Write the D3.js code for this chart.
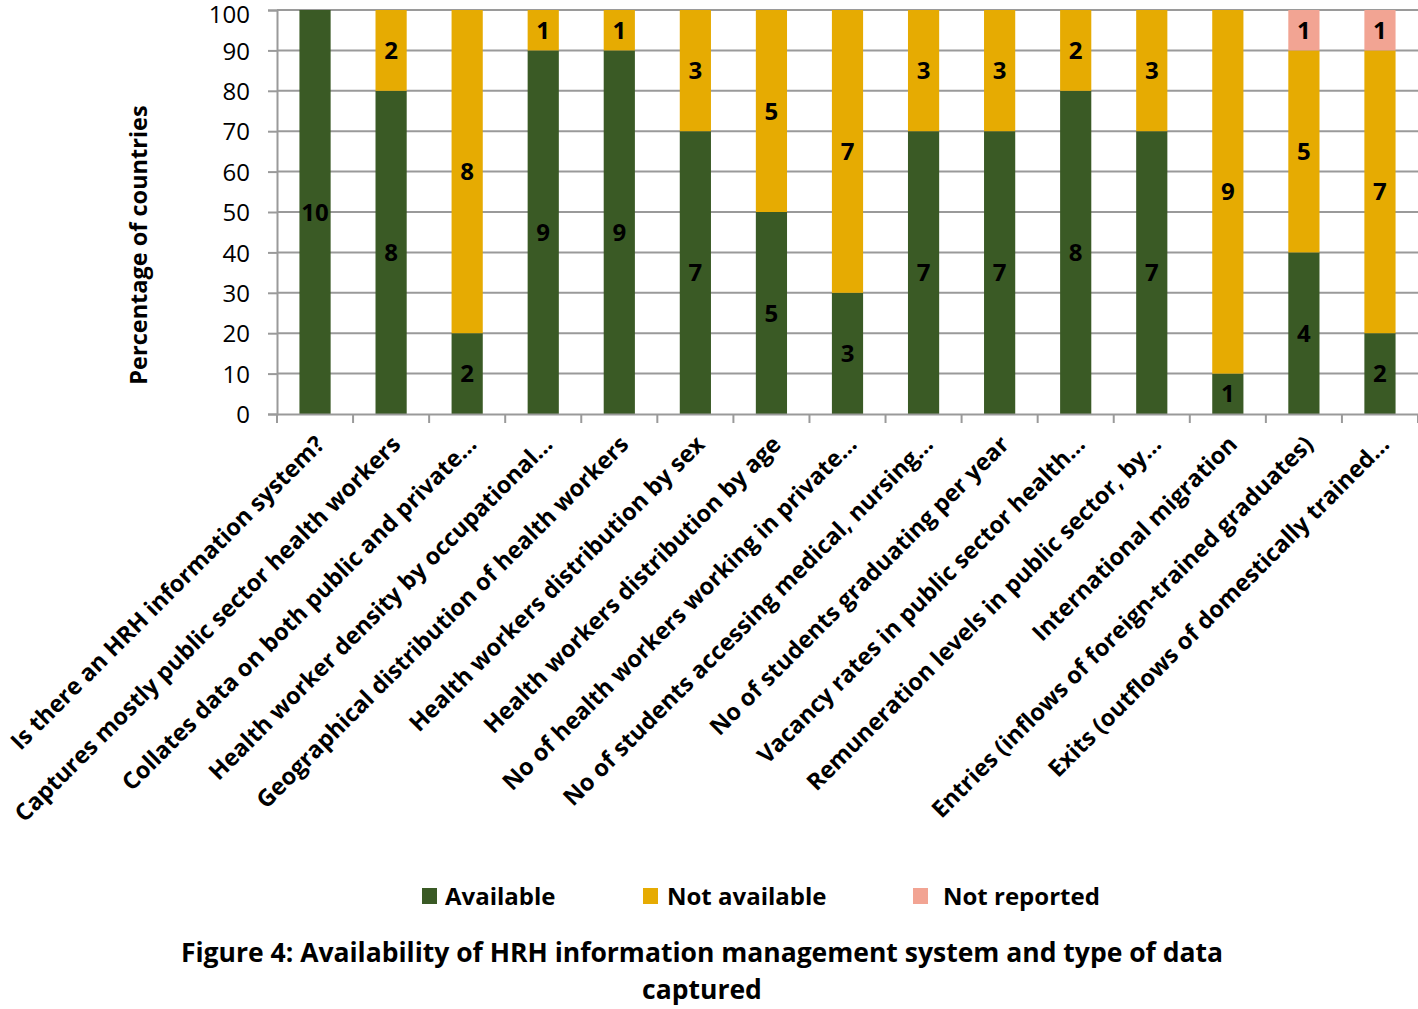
<!DOCTYPE html>
<html><head><meta charset="utf-8">
<script src="https://cdn.jsdelivr.net/npm/d3@7"></script>
<style>body{margin:0;background:#fff}svg{display:block}</style>
</head><body>
<script>
const categories = [
 "Is there an HRH information system?",
 "Captures mostly public sector health workers",
 "Collates data on both public and private…",
 "Health worker density by occupational…",
 "Geographical distribution of health workers",
 "Health workers distribution by sex",
 "Health workers distribution by age",
 "No of health workers working in private…",
 "No of students accessing medical, nursing…",
 "No of students graduating per year",
 "Vacancy rates in public sector health…",
 "Remuneration levels in public sector, by…",
 "International migration",
 "Entries (inflows of foreign-trained graduates)",
 "Exits (outflows of domestically trained…"
];
const available    = [10,8,2,9,9,7,5,3,7,7,8,7,1,4,2];
const notAvailable = [0,2,8,1,1,3,5,7,3,3,2,3,9,5,7];
const notReported  = [0,0,0,0,0,0,0,0,0,0,0,0,0,1,1];
const seriesNames = ["Available","Not available","Not reported"];
const yTicks = [0,10,20,30,40,50,60,70,80,90,100];
const colors = ["#3a5a25","#e6ab02","#f2a493"];

const W=1418,H=1009;
const font="'Open Sans', sans-serif";
const svg=d3.select("body").append("svg").attr("width",W).attr("height",H);
const m={l:277,r:1418,t:10,b:414};
const x=d3.scaleBand().domain(categories).range([m.l,m.r]).paddingInner(0.59).paddingOuter(0.295);
const y=d3.scaleLinear().domain([0,100]).range([m.b,m.t]);

const rows=categories.map((c,i)=>({cat:c,"Available":available[i],"Not available":notAvailable[i],"Not reported":notReported[i]}));
const stack=d3.stack().keys(seriesNames).value((d,k)=>d[k]*10)(rows);

// gridlines
svg.append("g").selectAll("line").data(yTicks.filter(t=>t>0)).join("line")
 .attr("x1",m.l).attr("x2",m.r).attr("y1",d=>y(d)).attr("y2",d=>y(d))
 .attr("stroke","#9a9a9a").attr("stroke-width",2);

// y axis
const ya=svg.append("g").attr("transform",`translate(${m.l},0)`)
 .call(d3.axisLeft(y).tickValues(yTicks).tickSize(9).tickPadding(18));
ya.select(".domain").attr("stroke","#9a9a9a").attr("stroke-width",2);
ya.selectAll(".tick line").attr("stroke","#9a9a9a").attr("stroke-width",2);
ya.selectAll("text").attr("font-family",font).attr("font-size",24).attr("fill","#000")
 .attr("dy",d=>d===100?"0.5em":"0.36em");

// bars
const g=svg.append("g");
stack.forEach((s,si)=>{
  g.append("g").selectAll("rect").data(s).join("rect")
   .attr("x",d=>x(d.data.cat)).attr("width",x.bandwidth())
   .attr("y",d=>y(d[1])).attr("height",d=>y(d[0])-y(d[1]))
   .attr("fill",colors[si]);
  g.append("g").selectAll("text").data(s.filter(d=>d[1]-d[0]>0)).join("text")
   .attr("x",d=>x(d.data.cat)+x.bandwidth()/2)
   .attr("y",d=>y((d[0]+d[1])/2)).attr("dy","0.36em")
   .attr("text-anchor","middle").attr("font-family",font).attr("font-weight",700)
   .attr("font-size",24).attr("fill","#000")
   .text(d=>(d[1]-d[0])/10);
});

// x axis
const xa=svg.append("g").attr("transform",`translate(0,${m.b})`)
 .call(d3.axisBottom(x).tickSize(0).tickFormat(""));
xa.select(".domain").attr("stroke","#9a9a9a").attr("stroke-width",2);
const step=x.step();
svg.append("g").selectAll("line").data(d3.range(categories.length+1)).join("line")
 .attr("x1",d=>m.l+d*step).attr("x2",d=>m.l+d*step).attr("y1",m.b).attr("y2",m.b+9)
 .attr("stroke","#9a9a9a").attr("stroke-width",2);

// category labels
svg.append("g").selectAll("text").data(categories).join("text")
 .attr("transform",d=>`translate(${x(d)+x.bandwidth()/2+5},${m.b+26}) rotate(-45)`)
 .attr("text-anchor","end").attr("font-family",font).attr("font-weight",700)
 .attr("font-size",23.5).attr("fill","#000").attr("dy","0.35em")
 .text(d=>d);

// y title
svg.append("text").attr("transform","translate(147,245) rotate(-90)")
 .attr("text-anchor","middle").attr("font-family",font).attr("font-weight",700)
 .attr("font-size",23.5).attr("fill","#000").text("Percentage of countries");

// legend
const lx=[422,643,913], ltx=[445,667,943];
const lg=svg.append("g");
seriesNames.forEach((n,i)=>{
  lg.append("rect").attr("x",lx[i]).attr("y",888).attr("width",15).attr("height",16).attr("fill",colors[i]);
  lg.append("text").attr("x",ltx[i]).attr("y",896).attr("dy","0.36em").attr("font-family",font)
   .attr("font-weight",700).attr("font-size",24).attr("fill","#000").text(n);
});

// title
const t=svg.append("text").attr("text-anchor","middle").attr("font-family",font)
 .attr("font-weight",700).attr("font-size",26.5).attr("fill","#000");
t.append("tspan").attr("x",702).attr("y",962).text("Figure 4: Availability of HRH information management system and type of data");
t.append("tspan").attr("x",702).attr("y",999).text("captured");
</script>
</body></html>
